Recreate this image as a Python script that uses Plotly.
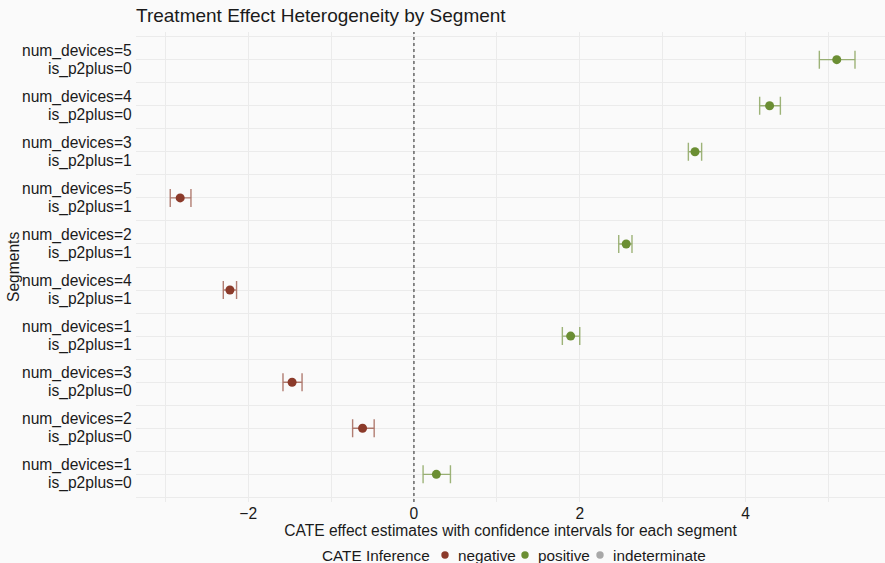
import plotly.graph_objects as go

# Segments from bottom to top (two label lines per segment)
seg_devices = ["num_devices=1", "num_devices=2", "num_devices=3", "num_devices=1", "num_devices=4",
               "num_devices=2", "num_devices=5", "num_devices=3", "num_devices=4", "num_devices=5"]
seg_p2plus = ["is_p2plus=0", "is_p2plus=0", "is_p2plus=0", "is_p2plus=1", "is_p2plus=1",
              "is_p2plus=1", "is_p2plus=1", "is_p2plus=1", "is_p2plus=0", "is_p2plus=0"]
estimate = [0.27, -0.62, -1.47, 1.89, -2.22, 2.56, -2.82, 3.39, 4.29, 5.10]
ci_lower = [0.11, -0.74, -1.58, 1.79, -2.30, 2.47, -2.94, 3.31, 4.17, 4.89]
ci_upper = [0.44, -0.48, -1.35, 2.00, -2.14, 2.63, -2.69, 3.47, 4.42, 5.32]

x_ticks = [-2, 0, 2, 4]
x_ticktext = ["\u22122", "0", "2", "4"]

categories = ["negative", "positive", "indeterminate"]
colors = {"negative": "#8B3A2A", "positive": "#6B8E33", "indeterminate": "#A8A8A8"}
bar_colors = {"negative": "rgba(139,58,42,0.65)", "positive": "rgba(107,142,51,0.65)",
              "indeterminate": "rgba(168,168,168,0.65)"}

def inference(lo, hi):
    if lo > 0:
        return "positive"
    if hi < 0:
        return "negative"
    return "indeterminate"

n = len(seg_devices)
ypos = list(range(n))
cats = [inference(l, h) for l, h in zip(ci_lower, ci_upper)]

TXT = "#1a1a1a"
FS = 15.6
W, H = 885, 563
ML, MT, MB = 136, 32, 61
PW, PH = W - ML, H - MT - MB

def px_x(px):
    return (px - ML) / PW

def px_y(py):
    return (H - MB - py) / PH

fig = go.Figure()
for cat in categories:
    idx = [i for i, c in enumerate(cats) if c == cat]
    if not idx:
        continue
    fig.add_trace(go.Scatter(
        x=[estimate[i] for i in idx], y=[ypos[i] for i in idx], mode="markers", name=cat,
        marker=dict(color=colors[cat], size=9),
        error_x=dict(type="data", symmetric=False,
                     array=[ci_upper[i] - estimate[i] for i in idx],
                     arrayminus=[estimate[i] - ci_lower[i] for i in idx],
                     color=bar_colors[cat], thickness=1.4, width=9),
        showlegend=False,
    ))

# segment labels (two lines each) on the y axis
for y, l1, l2 in zip(ypos, seg_devices, seg_p2plus):
    fig.add_annotation(text=l1, xref="paper", yref="y", x=0, y=y, xanchor="right",
                       yanchor="middle", xshift=-2, yshift=9, showarrow=False,
                       font=dict(size=FS, color=TXT))
    fig.add_annotation(text=l2, xref="paper", yref="y", x=0, y=y, xanchor="right",
                       yanchor="middle", xshift=-2, yshift=-9, showarrow=False,
                       font=dict(size=FS, color=TXT))

fig.add_shape(type="line", xref="x", yref="paper", x0=0, x1=0, y0=0, y1=1,
              line=dict(color="#222222", width=1, dash="dot"))

fig.add_annotation(text="Segments", xref="paper", yref="paper", x=px_x(13), y=0.5,
                   textangle=-90, showarrow=False, xanchor="center", yanchor="middle",
                   font=dict(size=FS, color=TXT))

# legend: "CATE Inference" + coloured keys
LEG_Y = 555
fig.add_annotation(text="CATE Inference", xref="paper", yref="paper", x=px_x(432),
                   y=px_y(LEG_Y), showarrow=False, xanchor="right", yanchor="middle",
                   font=dict(size=15.3, color=TXT))
key_px = [445, 525, 600]
for cat, kx in zip(categories, key_px):
    fig.add_shape(type="circle", xref="paper", yref="paper", xsizemode="pixel",
                  ysizemode="pixel", xanchor=px_x(kx), yanchor=px_y(LEG_Y),
                  x0=-3.7, x1=3.7, y0=-3.7, y1=3.7,
                  fillcolor=colors[cat], line=dict(width=0))
    fig.add_annotation(text=cat, xref="paper", yref="paper", x=px_x(kx + 11),
                       y=px_y(LEG_Y), showarrow=False, xanchor="left", yanchor="middle",
                       font=dict(size=15.3, color=TXT))

fig.update_layout(
    width=W, height=H,
    paper_bgcolor="#FAFAFA", plot_bgcolor="#FAFAFA",
    margin=dict(l=ML, r=0, t=MT, b=MB, autoexpand=False),
    font=dict(family="Liberation Sans, Arial, sans-serif", size=FS, color=TXT),
    title=dict(text="Treatment Effect Heterogeneity by Segment", x=ML / W, xanchor="left",
               y=1 - 15 / H, yanchor="middle", font=dict(size=19, color=TXT)),
    xaxis=dict(range=[-3.353, 5.682], tickvals=x_ticks, ticktext=x_ticktext,
               showgrid=True, gridcolor="#EBEBEB", gridwidth=1, zeroline=False,
               showline=False, ticks="", ticklen=0, automargin=False,
               minor=dict(dtick=1, tick0=0, showgrid=True, gridcolor="#EBEBEB", gridwidth=1),
               title=dict(text="CATE effect estimates with confidence intervals for each segment",
                          standoff=2, font=dict(size=FS)),
               tickfont=dict(size=FS)),
    yaxis=dict(range=[-0.6, n - 0.4], tickvals=ypos, showticklabels=False,
               showgrid=True, gridcolor="#EBEBEB", gridwidth=1, zeroline=False,
               showline=False, ticks="", ticklen=0, automargin=False,
               minor=dict(dtick=0.5, tick0=0.5, showgrid=True, gridcolor="#EBEBEB", gridwidth=1)),
    showlegend=False,
)

fig.write_html("out.html", config={"displayModeBar": False},
               post_script="document.body.style.margin='0';document.body.style.background='#FAFAFA';")
